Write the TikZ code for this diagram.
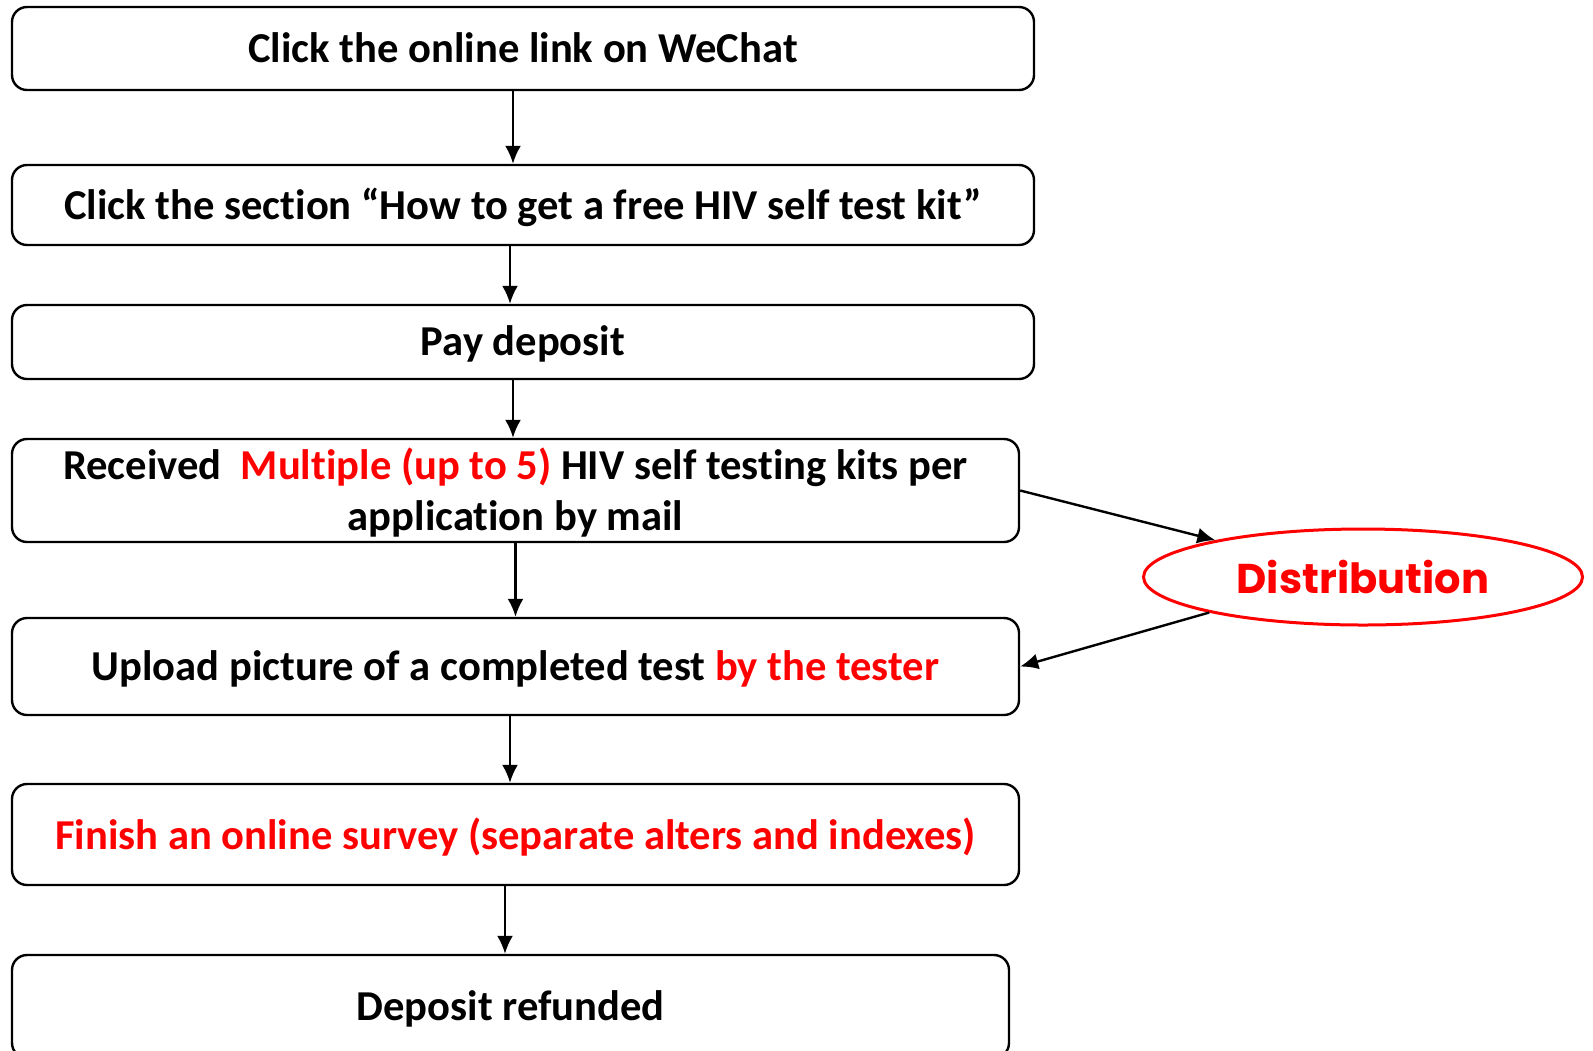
\documentclass[tikz,border=0pt]{standalone}
\usepackage{fontspec}
\setmainfont[Ligatures=NoCommon]{Carlito}
\newfontfamily\distfont{Poppins}
\usetikzlibrary{arrows.meta,shapes.geometric}
\tikzset{
  stepbox/.style={draw, rounded corners=7.5pt, line width=1.2pt, inner sep=0pt,
    align=center, text depth=1pt, font=\fontsize{21.3}{25.5}\selectfont\bfseries},
  arr/.style={-{Latex[length=9pt,width=8pt]}, line width=1.2pt},
}
\begin{document}
\begin{tikzpicture}[x=0.5pt,y=-0.5pt]
\useasboundingbox (0,0) rectangle (1593,1050);
\node[stepbox, minimum width=511pt, minimum height=41.5pt] (wechat) at (523,48.5) {Click the online link on WeChat};
\node[stepbox, minimum width=511pt, minimum height=40pt] (section) at (523,205) {Click the section “How to get a free HIV self test kit”};
\node[stepbox, minimum width=511pt, minimum height=37pt] (deposit) at (523,342) {Pay deposit};
\node[stepbox, minimum width=503.5pt, minimum height=51.5pt] (kits) at (515.5,490.5) {Received\ \ \textcolor{red}{Multiple (up to 5)} HIV self testing kits per\\application by mail};
\node[stepbox, minimum width=503.5pt, minimum height=48.5pt] (upload) at (515.5,666.5) {Upload picture of a completed test \textcolor{red}{by the tester}};
\node[stepbox, minimum width=503.5pt, minimum height=50.5pt] (survey) at (515.5,834.5) {\textcolor{red}{Finish an online survey (separate alters and indexes)}};
\node[stepbox, minimum width=498.5pt, minimum height=51.5pt] (refund) at (510.5,1006.5) {Deposit refunded};
\node[ellipse, draw=red, line width=1.5pt, inner sep=0pt, minimum width=219.5pt, minimum height=48pt,
  text=red, font=\distfont\fontsize{20.8}{24}\selectfont\bfseries] (dist) at (1363,577) {Distribution};
% main flow
\draw[arr] ([xshift=-5pt]wechat.south) -- ([xshift=-5pt]wechat.south |- section.north);
\draw[arr] ([xshift=-6.5pt]section.south) -- ([xshift=-6.5pt]section.south |- deposit.north);
\draw[arr] ([xshift=-5pt]deposit.south) -- ([xshift=-5pt]deposit.south |- kits.north);
\draw[arr] (kits.south) -- (upload.north);
\draw[arr] ([xshift=-2.75pt]upload.south) -- ([xshift=-2.75pt]upload.south |- survey.north);
\draw[arr] ([xshift=-5.25pt]survey.south) -- ([xshift=-5.25pt]survey.south |- refund.north);
% distribution loop
\draw[arr] (kits.east) -- (dist.166);
\draw[arr] (dist.193) -- (upload.east);
\end{tikzpicture}
\end{document}
